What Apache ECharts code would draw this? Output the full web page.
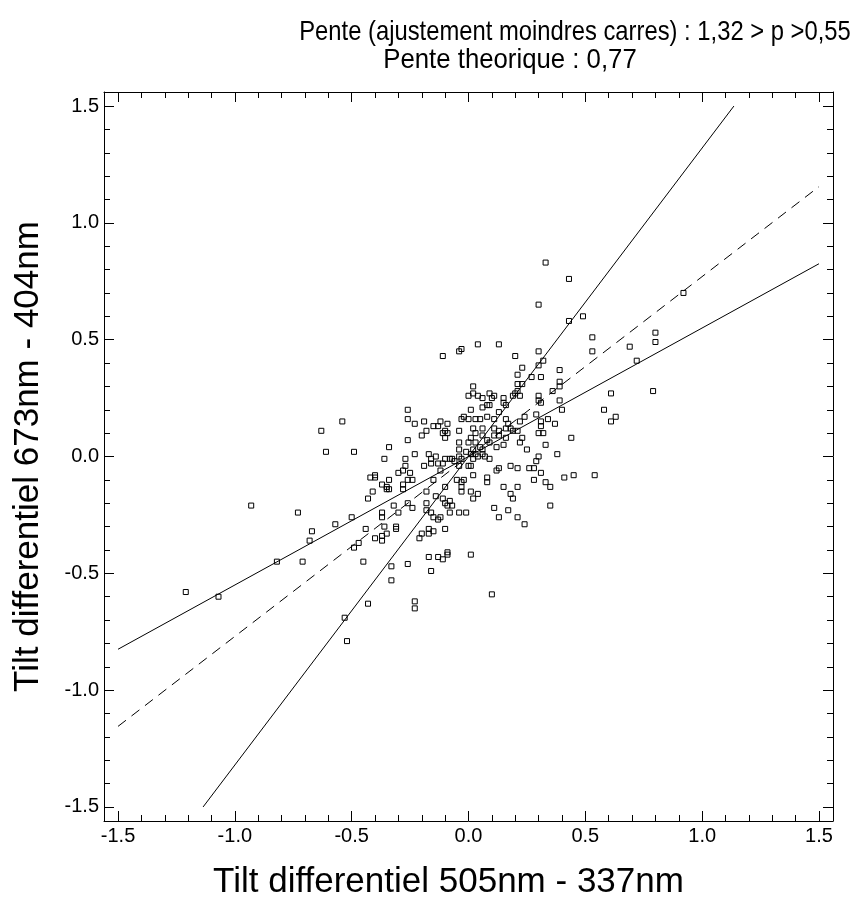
<!DOCTYPE html>
<html>
<head>
<meta charset="utf-8">
<script src="https://cdn.jsdelivr.net/npm/echarts@6/dist/echarts.min.js"></script>
<style>
  html, body { margin: 0; padding: 0; background: #ffffff; }
  #tilt { width: 861px; height: 918px; }
</style>
</head>
<body>
<div id="tilt"></div>
<script>
// measured differential tilts [505nm-337nm, 673nm-404nm]
var tiltPoints = [
  [-0.63, 0.11], [-0.61, 0.02], [-0.93, -0.21], [-0.73, -0.24], [-0.67, -0.32],
  [-0.57, -0.29], [-0.68, -0.36], [-0.82, -0.45], [-0.71, -0.45], [-1.21, -0.58],
  [-1.07, -0.60], [-0.43, -0.63], [-0.53, -0.69], [-0.52, -0.79], [-0.23, -0.62],
  [-0.23, -0.65], [0.10, -0.59], [0.92, 0.70], [0.53, 0.51], [0.80, 0.53],
  [0.80, 0.49], [0.53, 0.45], [0.69, 0.47], [0.72, 0.41], [0.61, 0.27],
  [0.79, 0.28], [0.58, 0.20], [0.63, 0.17], [0.49, 0.60], [0.61, 0.15],
  [0.54, -0.08], [0.33, 0.83], [0.43, 0.76], [0.30, 0.65], [0.43, 0.58],
  [-0.11, 0.43], [-0.04, 0.45], [-0.03, 0.46], [0.04, 0.48], [0.13, 0.48],
  [0.30, 0.45], [0.20, 0.43], [0.32, 0.41], [0.30, 0.39], [0.23, 0.38],
  [0.39, 0.37], [0.21, 0.35], [0.27, 0.34], [0.31, 0.34], [0.02, 0.30],
  [0.21, 0.31], [0.23, 0.31], [0.39, 0.32], [0.39, 0.30], [0.00, 0.26],
  [0.02, 0.27], [0.04, 0.26], [0.06, 0.25], [0.09, 0.27], [0.11, 0.26],
  [0.10, 0.25], [0.15, 0.25], [0.19, 0.26], [0.20, 0.27], [0.21, 0.28],
  [0.22, 0.26], [0.36, 0.28], [0.30, 0.26], [0.30, 0.24], [0.31, 0.23],
  [0.15, 0.23], [0.16, 0.22], [0.39, 0.24], [0.40, 0.20], [0.06, 0.21],
  [0.08, 0.22], [0.09, 0.22], [0.01, 0.20], [-0.26, 0.20], [0.13, 0.19],
  [0.29, 0.18], [0.34, 0.16], [0.24, 0.17], [0.22, 0.15], [0.16, 0.16],
  [0.11, 0.16], [0.08, 0.17], [0.05, 0.16], [0.03, 0.16], [0.00, 0.16],
  [-0.02, 0.17], [-0.03, 0.16], [-0.26, 0.16], [-0.54, 0.15], [-0.23, 0.14],
  [-0.19, 0.15], [-0.15, 0.13], [-0.12, 0.15], [-0.09, 0.14], [-0.13, 0.13],
  [-0.18, 0.11], [-0.20, 0.09], [-0.10, 0.11], [-0.11, 0.10], [-0.09, 0.10],
  [-0.10, 0.08], [-0.04, 0.11], [0.02, 0.12], [0.06, 0.12], [0.11, 0.12],
  [0.13, 0.11], [0.16, 0.12], [0.17, 0.14], [0.18, 0.12], [0.19, 0.11],
  [0.21, 0.11], [0.23, 0.08], [0.16, 0.08], [0.13, 0.09], [0.11, 0.09],
  [0.08, 0.07], [0.09, 0.06], [0.12, 0.04], [0.15, 0.05], [0.03, 0.10],
  [0.01, 0.08], [0.00, 0.06], [0.03, 0.06], [0.06, 0.09], [0.05, 0.04],
  [0.06, 0.03], [0.02, 0.03], [-0.04, 0.06], [-0.04, 0.03], [-0.01, 0.02],
  [0.01, 0.01], [0.03, 0.01], [0.04, 0.00], [0.06, 0.01], [0.07, 0.00],
  [0.09, -0.01], [0.02, -0.01], [0.00, -0.04], [0.01, -0.04], [0.02, -0.08],
  [-0.04, 0.00], [-0.03, -0.01], [-0.04, -0.04], [-0.07, -0.01], [-0.06, -0.02],
  [-0.10, -0.01], [-0.08, -0.01], [-0.14, 0.00], [-0.17, 0.01], [-0.16, -0.01],
  [-0.16, -0.03], [-0.13, -0.03], [-0.11, -0.03], [-0.19, -0.04], [-0.12, -0.06],
  [-0.15, -0.10], [-0.10, -0.13], [-0.05, -0.10], [-0.02, -0.10], [-0.03, -0.11],
  [-0.03, -0.13], [-0.03, -0.15], [0.01, -0.15], [0.04, -0.16], [0.02, -0.18],
  [0.08, -0.09], [0.08, -0.11], [0.12, -0.06], [0.13, -0.05], [0.18, -0.04],
  [0.21, -0.05], [0.26, -0.05], [0.28, -0.05], [0.31, -0.07], [0.28, -0.10],
  [0.33, -0.11], [0.35, -0.13], [0.41, -0.09], [0.45, -0.08], [0.38, 0.01],
  [0.30, 0.00], [0.29, -0.02], [0.25, 0.03], [0.33, 0.05], [0.22, 0.06],
  [0.37, 0.14], [0.31, 0.15], [0.32, 0.10], [0.30, 0.10], [0.31, 0.13],
  [0.44, 0.08], [0.15, -0.13], [0.21, -0.13], [0.18, -0.16], [0.19, -0.18],
  [0.35, -0.21], [0.11, -0.22], [0.13, -0.26], [0.17, -0.23], [0.21, -0.26],
  [0.24, -0.29], [0.01, -0.42], [-0.01, -0.24], [-0.04, -0.24], [-0.08, -0.24],
  [-0.09, -0.21], [-0.07, -0.21], [-0.10, -0.20], [-0.08, -0.19], [-0.11, -0.18],
  [-0.14, -0.17], [-0.18, -0.20], [-0.18, -0.23], [-0.16, -0.24], [-0.15, -0.26],
  [-0.13, -0.27], [-0.12, -0.26], [-0.10, -0.31], [-0.17, -0.31], [-0.15, -0.32],
  [-0.17, -0.33], [-0.20, -0.33], [-0.21, -0.35], [-0.17, -0.43], [-0.13, -0.43],
  [-0.11, -0.44], [-0.09, -0.42], [-0.09, -0.41], [-0.16, -0.49], [-0.24, -0.22],
  [-0.26, -0.20], [-0.30, -0.24], [-0.32, -0.21], [-0.28, -0.14], [-0.28, -0.12],
  [-0.26, -0.10], [-0.24, -0.10], [-0.25, -0.07], [-0.27, -0.04], [-0.28, -0.06],
  [-0.30, -0.07], [-0.27, -0.01], [-0.23, 0.01], [-0.18, -0.15], [-0.34, -0.10],
  [-0.34, -0.14], [-0.35, -0.14], [-0.37, -0.12], [-0.35, -0.13], [-0.40, -0.08],
  [-0.40, -0.09], [-0.42, -0.09], [-0.41, -0.15], [-0.43, -0.18], [-0.36, -0.01],
  [-0.34, 0.04], [-0.26, 0.07], [-0.49, 0.02], [-0.37, -0.24], [-0.37, -0.26],
  [-0.36, -0.30], [-0.31, -0.30], [-0.31, -0.31], [-0.44, -0.31], [-0.40, -0.35],
  [-0.37, -0.34], [-0.37, -0.36], [-0.35, -0.33], [-0.47, -0.37], [-0.49, -0.39],
  [-0.50, -0.26], [-0.45, -0.45], [-0.33, -0.47], [-0.26, -0.46], [-0.33, -0.53]
];

// slope lines (end points)
var fitUpper = [[-1.136, -1.5], [1.136, 1.5]];    // p = 1,32
var fitLower = [[-1.5, -0.825], [1.5, 0.825]];    // p = 0,55
var theory = [[-1.5, -1.155], [1.5, 1.155]];      // p = 0,77

var majorTicks = [-1.5, -1.0, -0.5, 0.0, 0.5, 1.0, 1.5];
var minorTicks = [-1.4, -1.3, -1.2, -1.1, -0.9, -0.8, -0.7, -0.6, -0.4, -0.3, -0.2, -0.1,
                  0.1, 0.2, 0.3, 0.4, 0.6, 0.7, 0.8, 0.9, 1.1, 1.2, 1.3, 1.4];
var tickLabels = ['-1.5', '-1.0', '-0.5', '0.0', '0.5', '1.0', '1.5'];

var titleLine1 = 'Pente (ajustement moindres carres) : 1,32 > p >0,55';
var titleLine2 = 'Pente theorique : 0,77';

var chartDom = document.getElementById('tilt');
var myChart = echarts.init(chartDom);
var option;

var font = "'Liberation Sans', Arial, sans-serif";

function labelOf(v) {
  for (var i = 0; i < majorTicks.length; i++) {
    if (Math.abs(majorTicks[i] - v) < 1e-6) return tickLabels[i];
  }
  return '';
}

function makeAxis(pos, ticks, len, showLine, showLabel) {
  var ax = {
    type: 'value',
    position: pos,
    min: -1.56,
    max: 1.56,
    splitLine: { show: false },
    axisLine: { show: showLine, onZero: false, lineStyle: { color: '#000', width: 1 } },
    axisTick: { show: true, inside: true, length: len, customValues: ticks, lineStyle: { color: '#000', width: 1 } },
    axisLabel: { show: showLabel, customValues: majorTicks, formatter: labelOf,
                 color: '#000', fontSize: 20, fontFamily: font, margin: 5 }
  };
  return ax;
}

var xAxes = [
  makeAxis('bottom', majorTicks, 10, true, true),
  makeAxis('bottom', minorTicks, 6, false, false),
  makeAxis('top', majorTicks, 10, true, false),
  makeAxis('top', minorTicks, 6, false, false)
];
xAxes[0].name = 'Tilt differentiel 505nm - 337nm';
xAxes[0].nameLocation = 'middle';
xAxes[0].nameGap = 44;
xAxes[0].nameTextStyle = { fontSize: 35, fontFamily: font, color: '#000', padding: [0, 40, 0, 0] };

var yAxes = [
  makeAxis('left', majorTicks, 10, true, true),
  makeAxis('left', minorTicks, 6, false, false),
  makeAxis('right', majorTicks, 10, true, false),
  makeAxis('right', minorTicks, 6, false, false)
];
yAxes[0].name = 'Tilt differentiel 673nm - 404nm';
yAxes[0].nameLocation = 'middle';
yAxes[0].nameGap = 58;
yAxes[0].nameTextStyle = { fontSize: 35, fontFamily: font, color: '#000' };

option = {
  animation: false,
  backgroundColor: '#ffffff',
  // two title lines, condensed like the original lettering
  graphic: [
    {
      type: 'text',
      x: 575,
      y: 18,
      scaleX: 0.85,
      style: { text: titleLine1, font: "28px " + font, fill: '#000', align: 'center', verticalAlign: 'top' }
    },
    {
      type: 'text',
      x: 510,
      y: 46,
      scaleX: 0.92,
      style: { text: titleLine2, font: "28px " + font, fill: '#000', align: 'center', verticalAlign: 'top' }
    }
  ],
  grid: {
    left: 104,
    right: 28,
    top: 92,
    bottom: 97,
    containLabel: false
  },
  xAxis: xAxes,
  yAxis: yAxes,
  series: [
    {
      name: 'mesures',
      type: 'scatter',
      symbol: 'rect',
      symbolSize: 5,
      itemStyle: { color: 'rgba(0,0,0,0)', borderColor: '#000', borderWidth: 1, opacity: 1 },
      data: tiltPoints
    },
    {
      name: 'p max',
      type: 'line',
      symbol: 'none',
      lineStyle: { color: '#000', width: 1 },
      data: fitUpper
    },
    {
      name: 'p min',
      type: 'line',
      symbol: 'none',
      lineStyle: { color: '#000', width: 1 },
      data: fitLower
    },
    {
      name: 'theorique',
      type: 'line',
      symbol: 'none',
      lineStyle: { color: '#000', width: 1, type: [10, 7] },
      data: theory
    }
  ]
};

option && myChart.setOption(option);
</script>
</body>
</html>
